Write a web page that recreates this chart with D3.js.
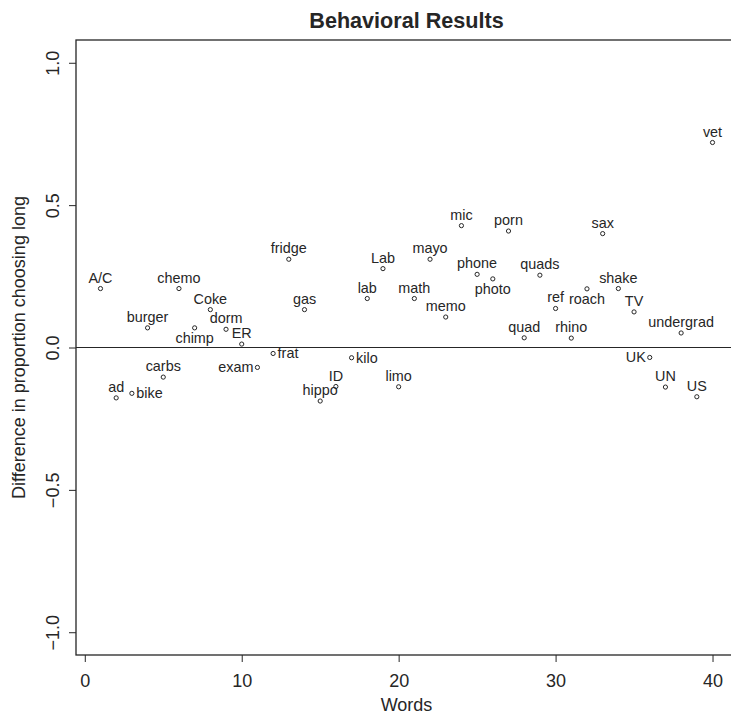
<!DOCTYPE html>
<html>
<head>
<meta charset="utf-8">
<script src="https://cdn.jsdelivr.net/npm/d3@7"></script>
<style>
  body { margin: 0; background: #fff; }
  svg { display: block; font-family: "Liberation Sans", Arial, Helvetica, sans-serif; }
</style>
</head>
<body>
<div id="chart"></div>
<script>
// words in plot order (x = 1..40)
var words = ["A/C", "ad", "bike", "burger", "carbs", "chemo", "chimp", "Coke", "dorm", "ER",
  "exam", "frat", "fridge", "gas", "hippo", "ID", "kilo", "lab", "Lab", "limo",
  "math", "mayo", "memo", "mic", "phone", "photo", "porn", "quad", "quads", "ref",
  "rhino", "roach", "sax", "shake", "TV", "UK", "UN", "undergrad", "US", "vet"];

// difference in proportion choosing long
var diffs = [0.207, -0.177, -0.161, 0.069, -0.104, 0.207, 0.069, 0.133, 0.064, 0.012,
  -0.070, -0.021, 0.310, 0.133, -0.188, -0.137, -0.036, 0.172, 0.277, -0.138,
  0.172, 0.310, 0.107, 0.428, 0.257, 0.241, 0.409, 0.034, 0.254, 0.137,
  0.033, 0.206, 0.400, 0.207, 0.125, -0.035, -0.139, 0.051, -0.173, 0.720];

// where the label sits, like R's pos: 1 below, 2 left, 3 above, 4 right
var labelPos = [3, 3, 4, 3, 3, 3, 1, 3, 3, 3,
  2, 4, 3, 3, 3, 3, 4, 3, 3, 3,
  3, 3, 3, 3, 3, 1, 3, 3, 3, 3,
  3, 1, 3, 3, 3, 2, 3, 3, 3, 3];

var xTicks = [0, 10, 20, 30, 40];
var yTicks = [-1.0, -0.5, 0.0, 0.5, 1.0];

var width = 731, height = 715;
// plot region (right edge falls outside the picture, as in the original)
var plotL = 76, plotT = 40, plotR = 737, plotB = 655;
var ink = "#262626";

var svg = d3.select("#chart").append("svg")
  .attr("width", width)
  .attr("height", height);

var x = d3.scaleLinear().domain([-0.56, 41.56]).range([plotL, plotR]);
var y = d3.scaleLinear().domain([-1.08, 1.08]).range([plotB, plotT]);

// plot box
svg.append("rect")
  .attr("x", plotL).attr("y", plotT)
  .attr("width", plotR - plotL).attr("height", plotB - plotT)
  .attr("fill", "none").attr("stroke", ink).attr("stroke-width", 1.3);

// axes, R style
var xAxis = svg.append("g")
  .attr("transform", "translate(0," + plotB + ")")
  .call(d3.axisBottom(x).tickValues(xTicks).tickSize(7).tickFormat(d3.format("d")));

var yAxis = svg.append("g")
  .attr("transform", "translate(" + plotL + ",0)")
  .call(d3.axisLeft(y).tickValues(yTicks).tickSize(7).tickFormat(d3.format(".1f")));

[xAxis, yAxis].forEach(function(g) {
  g.select(".domain").remove();
  g.selectAll(".tick line").attr("stroke", ink).attr("stroke-width", 1);
  g.selectAll(".tick text").attr("fill", ink).style("font-size", "18px");
});

xAxis.selectAll(".tick text").attr("y", 32).attr("dy", null);

// rotated y tick labels
yAxis.selectAll(".tick text")
  .attr("x", null).attr("dy", null)
  .attr("text-anchor", "middle")
  .attr("transform", "translate(-17,0) rotate(-90)");

// zero line
svg.append("line")
  .attr("x1", plotL).attr("x2", plotR)
  .attr("y1", y(0)).attr("y2", y(0))
  .attr("stroke", ink).attr("stroke-width", 1.2);

var data = words.map(function(w, i) {
  return { word: w, n: i + 1, diff: diffs[i], pos: labelPos[i] };
});

// points
svg.append("g").selectAll("circle")
  .data(data)
  .enter()
  .append("circle")
  .attr("cx", function(d) { return x(d.n); })
  .attr("cy", function(d) { return y(d.diff); })
  .attr("r", 2.1)
  .attr("fill", "none")
  .attr("stroke", ink)
  .attr("stroke-width", 1);

// word labels
svg.append("g").selectAll("text")
  .data(data)
  .enter()
  .append("text")
  .attr("x", function(d) {
    if (d.pos === 2) return x(d.n) - 4;
    if (d.pos === 4) return x(d.n) + 4.5;
    return x(d.n);
  })
  .attr("y", function(d) {
    if (d.pos === 3) return y(d.diff) - 6;
    if (d.pos === 1) return y(d.diff) + 15;
    return y(d.diff) + 5;
  })
  .attr("text-anchor", function(d) {
    return d.pos === 2 ? "end" : d.pos === 4 ? "start" : "middle";
  })
  .attr("fill", ink)
  .style("font-size", "14.4px")
  .text(function(d) { return d.word; });

// titles
svg.append("text")
  .attr("x", (plotL + plotR) / 2).attr("y", 28)
  .attr("text-anchor", "middle")
  .attr("fill", ink)
  .style("font-size", "21.6px").style("font-weight", "bold")
  .text("Behavioral Results");

svg.append("text")
  .attr("x", (plotL + plotR) / 2).attr("y", 711)
  .attr("text-anchor", "middle")
  .attr("fill", ink)
  .style("font-size", "18px")
  .text("Words");

svg.append("text")
  .attr("transform", "translate(25," + (plotT + plotB) / 2 + ") rotate(-90)")
  .attr("text-anchor", "middle")
  .attr("fill", ink)
  .style("font-size", "18px")
  .text("Difference in proportion choosing long");
</script>
</body>
</html>
